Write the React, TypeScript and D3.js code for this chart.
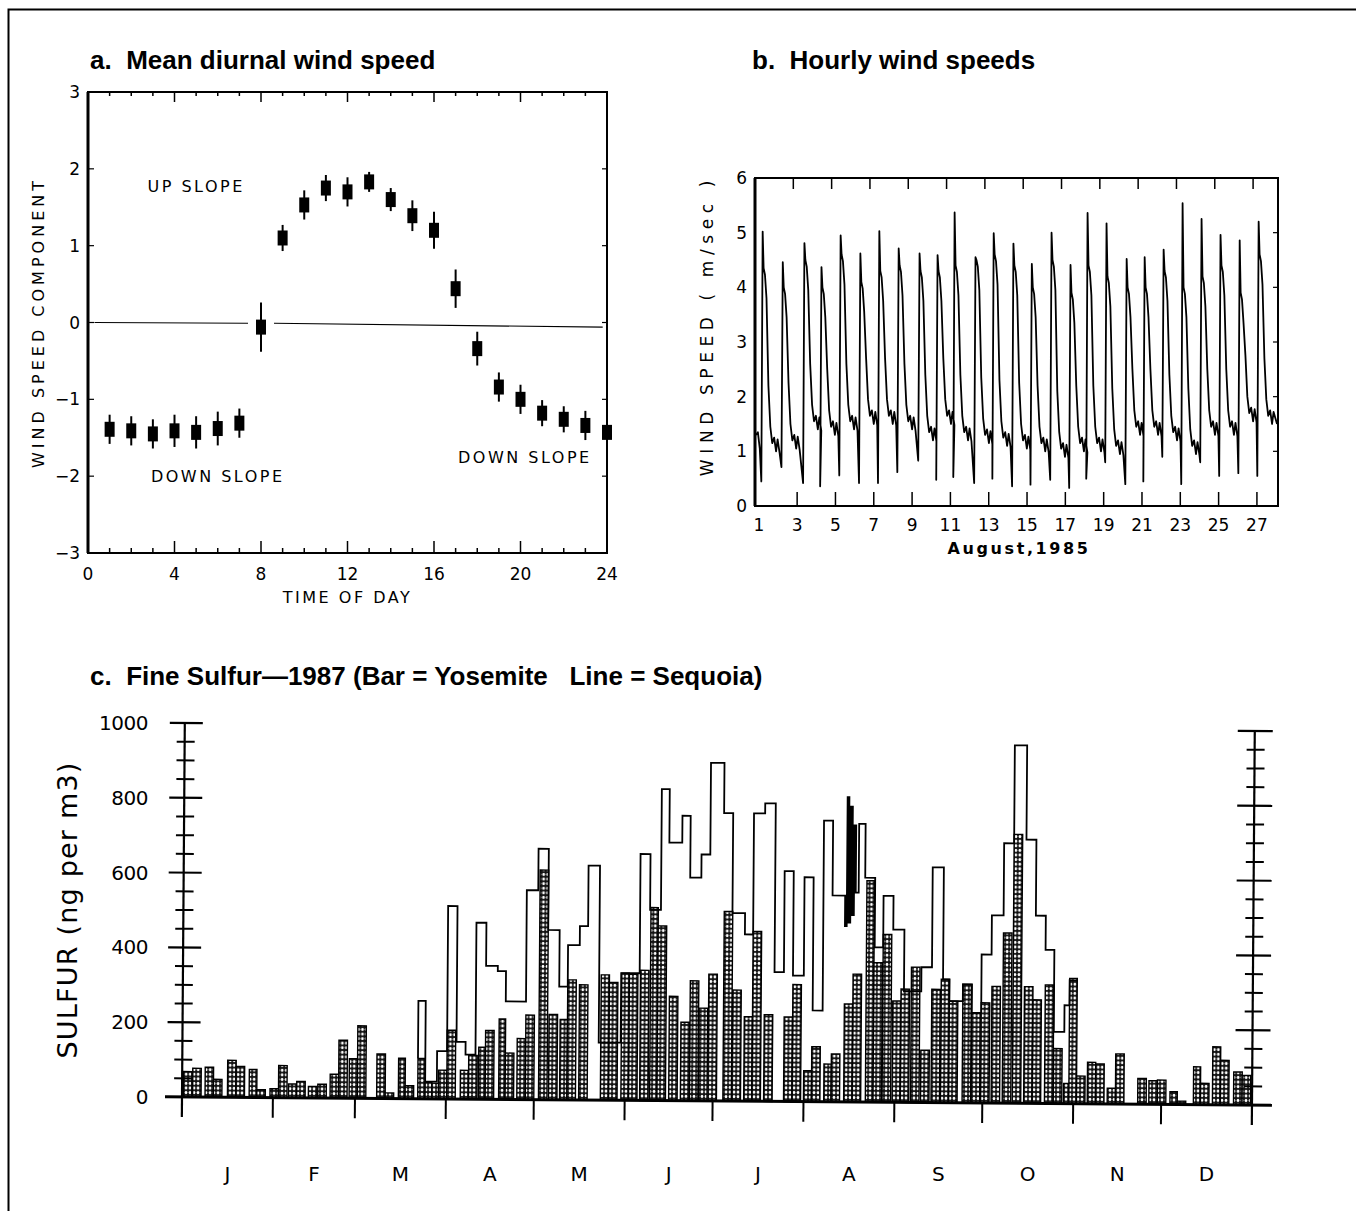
import React from "react";
import * as d3 from "d3";

// ---- a. Mean diurnal wind speed ----
const hours = [1, 2, 3, 4, 5, 6, 7, 8, 9, 10, 11, 12, 13, 14, 15, 16, 17, 18, 19, 20, 21, 22, 23, 24];
const meanComponent = [-1.39, -1.41, -1.45, -1.41, -1.43, -1.38, -1.31, -0.06, 1.1, 1.53, 1.75, 1.7, 1.83, 1.6, 1.39, 1.2, 0.44, -0.34, -0.84, -1.0, -1.18, -1.26, -1.34, -1.43];
const meanError = [0.12, 0.12, 0.12, 0.14, 0.14, 0.15, 0.12, 0.25, 0.1, 0.12, 0.1, 0.12, 0.06, 0.08, 0.13, 0.17, 0.18, 0.15, 0.12, 0.12, 0.1, 0.1, 0.12, 0.1];
const hourTicks = [0, 4, 8, 12, 16, 20, 24];
const componentTicks = [-3, -2, -1, 0, 1, 2, 3];

// ---- b. Hourly wind speeds, August 1985 (one daily cycle per entry) ----
const peakDays = [1.2, 2.25, 3.38, 4.27, 5.27, 6.3, 7.29, 8.3, 9.39, 10.33, 11.22, 12.31, 13.26, 14.29, 15.25, 16.28, 17.27, 18.16, 19.15, 20.2, 21.14, 22.13, 23.12, 24.11, 25.1, 26.1, 27.09];
const peakSpeeds = [5.02, 4.46, 4.81, 4.37, 4.95, 4.62, 5.03, 4.71, 4.62, 4.59, 5.37, 4.55, 4.99, 4.8, 4.43, 5.0, 4.41, 5.36, 5.17, 4.52, 4.55, 4.69, 5.54, 5.25, 4.96, 4.86, 5.2];
const plateauSpeeds = [4.35, 4.0, 4.5, 4.0, 4.6, 4.1, 4.3, 4.4, 4.3, 4.3, 4.4, 4.5, 4.6, 4.4, 4.0, 4.5, 3.9, 4.4, 4.2, 4.0, 4.0, 4.3, 4.0, 4.2, 4.4, 3.9, 4.6];
const dipSpeeds = [0.45, 0.71, 0.42, 0.36, 0.56, 0.42, 0.42, 0.62, 0.83, 0.48, 0.53, 0.42, 0.5, 0.36, 0.39, 0.48, 0.33, 0.5, 0.8, 0.4, 0.45, 0.9, 0.4, 0.8, 0.55, 0.6, 0.55];
const nightSpeeds = [1.1, 1.15, 1.5, 1.4, 1.5, 1.6, 1.6, 1.5, 1.3, 1.6, 1.3, 1.25, 1.2, 1.15, 1.1, 1.0, 1.1, 1.1, 1.05, 1.4, 1.4, 1.3, 1.05, 1.4, 1.4, 1.65, 1.6];
const dayTicks = [1, 3, 5, 7, 9, 11, 13, 15, 17, 19, 21, 23, 25, 27];
const speedTicks = [0, 1, 2, 3, 4, 5, 6];

// ---- c. Fine sulfur 1987 (day of year) ----
const yosemiteDays = [0.45, 3.6, 7.85, 10.7, 15.5, 18.4, 22.9, 25.5, 30, 32.9, 36.3, 39.1, 43.1, 46.3, 50.5, 53.4, 57, 59.8, 66.4, 69.3, 73.8, 76.1, 80.4, 82.9, 85.2, 87.5, 90.3, 94.9, 97.7, 101.1, 103.4, 108, 110.2, 114.2, 117.1, 121.6, 125, 128.8, 131.3, 135.3, 142.7, 145.5, 149.7, 152.3, 156.1, 159.5, 162, 166, 170, 173.1, 176.2, 179.4, 184.5, 187.6, 191.6, 194.4, 198.4, 205.2, 208.1, 212, 214.7, 218.9, 221.4, 225.7, 228.6, 233.1, 235.7, 238.8, 242.2, 245, 248.5, 251.9, 255.5, 258.7, 261.5, 266.1, 269.2, 272.4, 276, 279.8, 283.2, 287.1, 290, 294.2, 297.2, 300.7, 302.5, 305.1, 308.8, 311.6, 315.6, 318.4, 326, 329.8, 332.7, 337, 339.5, 345, 347.4, 351.5, 354.2, 358.7, 361.6];
const yosemiteValues = [68, 77, 80, 48, 99, 83, 75, 21, 24, 86, 37, 44, 31, 37, 64, 155, 106, 194, 119, 15, 108, 35, 108, 44, 42, 77, 184, 77, 117, 139, 184, 215, 124, 163, 226, 614, 228, 215, 321, 308, 335, 315, 340, 337, 348, 516, 467, 279, 210, 321, 248, 339, 507, 297, 226, 454, 232, 226, 313, 83, 147, 101, 128, 262, 342, 592, 373, 449, 271, 303, 362, 140, 303, 330, 272, 317, 241, 268, 312, 455, 719, 312, 277, 317, 147, 54, 335, 74, 111, 107, 42, 134, 69, 63, 65, 34, 9, 101, 57, 155, 119, 88, 79];
const sequoiaDays = [80.4, 80.4, 82.9, 86.9, 90.3, 93.5, 96.6, 100, 103.4, 107.4, 110.2, 117.1, 121, 124.5, 128.4, 131.3, 135.3, 138.1, 142, 149.5, 155.8, 159.2, 162.9, 165.6, 170, 172.8, 176.6, 179.6, 184.2, 187.3, 191.6, 194.4, 198.2, 201.8, 205, 208.1, 211.8, 214.9, 218.3, 221.4, 225.7, 226.3, 226.9, 227.5, 228.1, 228.7, 229.3, 230.3, 232.5, 235.9, 238.8, 242.2, 246, 251.9, 255.5, 259.3, 261.5, 266.1, 269.2, 272.4, 275.8, 279.8, 283.2, 287.4, 290.8, 294.2, 297.2, 300.8, 302.5, 305.1];
const sequoiaValues = [108, 262, 46, 128, 516, 153, 119, 472, 357, 343, 262, 560, 671, 454, 303, 414, 465, 627, 154, 340, 659, 510, 833, 690, 762, 597, 659, 904, 770, 503, 446, 770, 797, 346, 616, 337, 600, 244, 752, 552, 470, 815, 480, 790, 500, 740, 560, 744, 600, 414, 552, 462, 297, 362, 629, 330, 272, 317, 241, 397, 502, 695, 957, 705, 502, 411, 192, 263, 330, 330];
const monthStarts = [0, 31, 59, 90, 120, 151, 181, 212, 243, 273, 304, 334, 365];
const monthLetters = ["J", "F", "M", "A", "M", "J", "J", "A", "S", "O", "N", "D"];
const sulfurTicks = [0, 200, 400, 600, 800, 1000];

const typeFont = "'DejaVu Sans', sans-serif";
const titleFont = "'Liberation Sans', Arial, sans-serif";

const App = () => {
  // panel a scales
  const xA = d3.scaleLinear().domain([0, 24]).range([88, 607]);
  const yA = d3.scaleLinear().domain([-3, 3]).range([553, 92]);

  // panel b scales
  const xB = d3.scaleLinear().domain([0.8, 28.1]).range([755, 1278]);
  const yB = d3.scaleLinear().domain([0, 6]).range([506, 178]);

  // panel c scales
  const xC = d3.scaleLinear().domain([0, 365]).range([182, 1252]);
  const yC = d3.scaleLinear().domain([0, 1000]).range([1097, 723]);

  // build the hourly trace from the daily readings
  const trace: [number, number][] = [[0.85, 1.3], [0.95, 1.35], [1.05, 1.05]];
  peakDays.forEach((tp, i) => {
    const n = nightSpeeds[i];
    const p = plateauSpeeds[i];
    trace.push(
      [tp - 0.07, dipSpeeds[i]],
      [tp, peakSpeeds[i]],
      [tp + 0.05, p],
      [tp + 0.12, p - 0.12],
      [tp + 0.2, p - 0.55],
      [tp + 0.3, n + 1.1],
      [tp + 0.4, n + 0.35],
      [tp + 0.5, n + 0.05],
      [tp + 0.6, n + 0.15],
      [tp + 0.7, n - 0.1],
      [tp + 0.78, n + 0.12]
    );
    if (i < peakDays.length - 1) trace.push([tp + 0.88, n - 0.12]);
  });
  trace.push([28.05, 1.5]);
  const traceLine = d3.line<[number, number]>().x((d) => xB(d[0])).y((d) => yB(d[1]));

  const stepLine = d3
    .line<[number, number]>()
    .x((d) => xC(d[0]))
    .y((d) => yC(d[1]))
    .curve(d3.curveStepAfter);
  const sequoiaPts: [number, number][] = sequoiaDays.map((d, i) => [d, sequoiaValues[i]]);

  const minorTicks = d3.range(0, 1001, 50).filter((v) => v % 200 !== 0);

  return (
    <svg width={1356} height={1211} style={{ position: "absolute", left: 0, top: 0, background: "#fff" }}>
      <defs>
        <pattern id="dots" width={4} height={4.6} patternUnits="userSpaceOnUse">
          <rect width={4} height={4.6} fill="#111" />
          <ellipse cx={2} cy={2.3} rx={1.35} ry={1.65} fill="#fff" />
        </pattern>
      </defs>
      <rect x={8.5} y={9.5} width={1400} height={1300} fill="none" stroke="#000" strokeWidth={2} />

      {/* titles */}
      <g fontFamily={titleFont} fontWeight="bold" fontSize={26} fill="#000">
        <text x={90} y={69} style={{ whiteSpace: "pre" }}>{"a.  Mean diurnal wind speed"}</text>
        <text x={752} y={69} style={{ whiteSpace: "pre" }}>{"b.  Hourly wind speeds"}</text>
        <text x={90} y={685} style={{ whiteSpace: "pre" }}>{"c.  Fine Sulfur\u20141987 (Bar = Yosemite   Line = Sequoia)"}</text>
      </g>

      {/* ---- panel a ---- */}
      <g>
        <rect x={xA(0)} y={yA(3)} width={xA(24) - xA(0)} height={yA(-3) - yA(3)} fill="none" stroke="#000" strokeWidth={2} />
        <line x1={xA(0)} x2={xA(0)} y1={yA(3)} y2={yA(-3)} stroke="#000" strokeWidth={3} />
        {d3.range(1, 24).map((h) => (
          <g key={h}>
            <line x1={xA(h)} x2={xA(h)} y1={yA(-3)} y2={yA(-3) - (h % 4 === 0 ? 12 : 5)} stroke="#000" strokeWidth={1.5} />
            <line x1={xA(h)} x2={xA(h)} y1={yA(3)} y2={yA(3) + (h % 4 === 0 ? 10 : 4)} stroke="#000" strokeWidth={1.5} />
          </g>
        ))}
        {componentTicks.slice(1, -1).map((v) => (
          <g key={v}>
            <line x1={xA(0)} x2={xA(0) + 6} y1={yA(v)} y2={yA(v)} stroke="#000" strokeWidth={1.2} />
            <line x1={xA(24)} x2={xA(24) - 5} y1={yA(v)} y2={yA(v)} stroke="#000" strokeWidth={1.2} />
          </g>
        ))}
        <g fontFamily={typeFont} fontSize={17} fill="#000">
          {componentTicks.map((v) => (
            <text key={v} x={xA(0) - 8} y={yA(v) + 6} textAnchor="end">{v < 0 ? "\u2212" + Math.abs(v) : v}</text>
          ))}
          {hourTicks.map((h) => (
            <text key={h} x={xA(h)} y={yA(-3) + 27} textAnchor="middle">{h}</text>
          ))}
        </g>
        <line x1={xA(0.3)} x2={xA(7.4)} y1={yA(0)} y2={yA(-0.01)} stroke="#000" strokeWidth={1.2} />
        <line x1={xA(8.6)} x2={xA(23.8)} y1={yA(-0.01)} y2={yA(-0.06)} stroke="#000" strokeWidth={1.2} />
        {hours.map((h, i) => (
          <g key={h}>
            <line x1={xA(h)} x2={xA(h)} y1={yA(meanComponent[i] + meanError[i] + 0.07)} y2={yA(meanComponent[i] - meanError[i] - 0.07)} stroke="#000" strokeWidth={2} />
            <rect x={xA(h) - 5} y={yA(meanComponent[i]) - 7.5} width={10} height={15} fill="#000" />
          </g>
        ))}
        <g fontFamily={typeFont} fontSize={16} fill="#000" letterSpacing={2.5}>
          <text x={xA(5)} y={yA(1.7)} textAnchor="middle">UP SLOPE</text>
          <text x={xA(6)} y={yA(-2.07)} textAnchor="middle">DOWN SLOPE</text>
          <text x={xA(20.2)} y={yA(-1.83)} textAnchor="middle">DOWN SLOPE</text>
          <text x={xA(12)} y={603} textAnchor="middle">TIME OF DAY</text>
          <text transform={`translate(44,${yA(0)}) rotate(-90)`} textAnchor="middle" letterSpacing={4}>WIND SPEED COMPONENT</text>
        </g>
      </g>

      {/* ---- panel b ---- */}
      <g>
        <rect x={xB(0.8)} y={yB(6)} width={xB(28.1) - xB(0.8)} height={yB(0) - yB(6)} fill="none" stroke="#000" strokeWidth={2} />
        <line x1={xB(0.8)} x2={xB(0.8)} y1={yB(6)} y2={yB(0)} stroke="#000" strokeWidth={3} />
        {dayTicks.slice(1).map((d) => (
          <g key={d}>
            <line x1={xB(d)} x2={xB(d)} y1={yB(0)} y2={yB(0) - 14} stroke="#000" strokeWidth={1.5} />
            <line x1={xB(d - 0.2)} x2={xB(d - 0.2)} y1={yB(6)} y2={yB(6) + 11} stroke="#000" strokeWidth={1.5} />
          </g>
        ))}
        {speedTicks.slice(1, -1).map((v) => (
          <line key={v} x1={xB(28.1)} x2={xB(28.1) - 5} y1={yB(v)} y2={yB(v)} stroke="#000" strokeWidth={1.2} />
        ))}
        <path d={traceLine(trace) || ""} fill="none" stroke="#000" strokeWidth={1.8} strokeLinejoin="round" />
        <g fontFamily={typeFont} fontSize={17} fill="#000">
          {speedTicks.map((v) => (
            <text key={v} x={xB(0.8) - 8} y={yB(v) + 6} textAnchor="end">{v}</text>
          ))}
          {dayTicks.map((d) => (
            <text key={d} x={xB(d)} y={yB(0) + 25} textAnchor="middle">{d}</text>
          ))}
        </g>
        <g fontFamily={typeFont} fontSize={16} fill="#000" letterSpacing={2.6}>
          <text x={1019} y={554} textAnchor="middle" fontWeight="bold">August,1985</text>
          <text transform={`translate(713,${yB(3.3)}) rotate(-90)`} textAnchor="middle" fontSize={17} letterSpacing={5.6}>WIND SPEED ( m/sec )</text>
        </g>
      </g>

      {/* ---- panel c ---- */}
      <g transform={`rotate(0.43 ${xC(0)} ${yC(0)})`}>
        {yosemiteDays.map((d, i) => {
          const next = i < yosemiteDays.length - 1 ? yosemiteDays[i + 1] : d + 3;
          const w = xC(Math.min(next, d + 2.9)) - xC(d);
          return (
            <rect key={i} x={xC(d)} y={yC(yosemiteValues[i])} width={w} height={yC(0) - yC(yosemiteValues[i])} fill="url(#dots)" stroke="#000" strokeWidth={1.4} />
          );
        })}
        <path d={stepLine(sequoiaPts) || ""} fill="none" stroke="#000" strokeWidth={1.8} />
        <line x1={165} x2={1272} y1={yC(0)} y2={yC(0)} stroke="#000" strokeWidth={3} />
        {[xC(0), xC(365)].map((ax, k) => (
          <g key={k}>
            <line x1={ax} x2={ax} y1={yC(1000)} y2={yC(0) + 20} stroke="#000" strokeWidth={2.2} />
            {sulfurTicks.slice(1).map((v) => (
              <line key={v} x1={ax - (k === 0 ? 15 : 17)} x2={ax + 18} y1={yC(v)} y2={yC(v)} stroke="#000" strokeWidth={2.2} />
            ))}
            {minorTicks.map((v) => (
              <line key={v} x1={ax - 8} x2={ax + 10} y1={yC(v)} y2={yC(v)} stroke="#000" strokeWidth={2} />
            ))}
          </g>
        ))}
        {monthStarts.slice(1, -1).map((d) => (
          <line key={d} x1={xC(d)} x2={xC(d)} y1={yC(0)} y2={yC(0) + 20} stroke="#000" strokeWidth={2} />
        ))}
      </g>
      <g fontFamily={typeFont} fontSize={20} fill="#000">
        {sulfurTicks.map((v) => (
          <text key={v} x={148} y={yC(v) + 7} textAnchor="end" letterSpacing={-0.5}>{v}</text>
        ))}
        {monthLetters.map((m, i) => (
          <text key={i} x={xC((monthStarts[i] + monthStarts[i + 1]) / 2)} y={1181} textAnchor="middle" fontSize={20}>{m}</text>
        ))}
        <text transform={`translate(77,${yC(500)}) rotate(-90)`} textAnchor="middle" fontSize={27} letterSpacing={1.2}>SULFUR (ng per m3)</text>
      </g>
    </svg>
  );
};

export default App;
